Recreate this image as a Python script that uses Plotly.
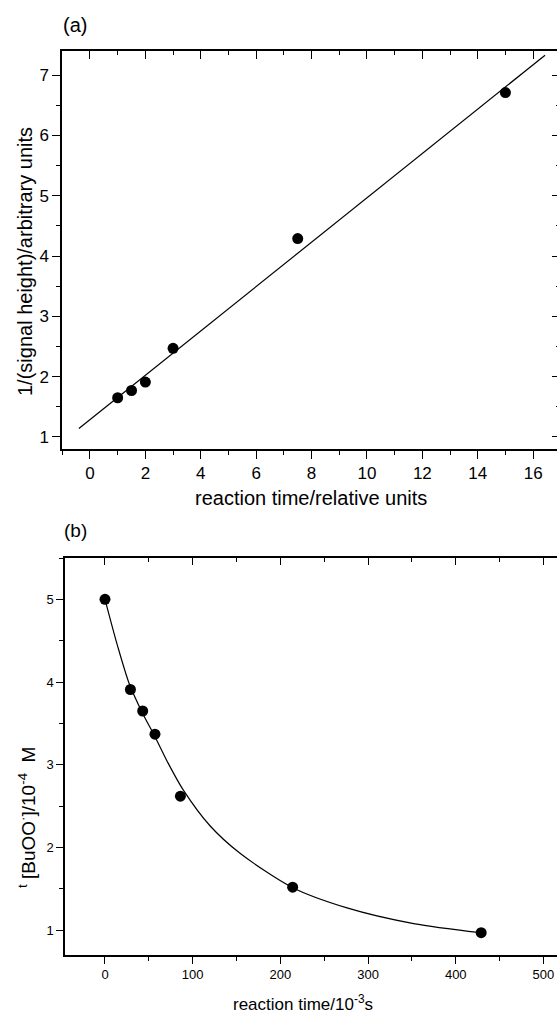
import plotly.graph_objects as go

# ---------------- data ----------------
# panel (a)
a_time = [1, 1.5, 2, 3, 7.5, 15]
a_inv_signal = [1.65, 1.77, 1.91, 2.47, 4.29, 6.71]
a_fit_x = [-0.4, 16.43]
a_fit_y = [1.14, 7.33]
a_xticks = [0, 2, 4, 6, 8, 10, 12, 14, 16]
a_yticks = [1, 2, 3, 4, 5, 6, 7]

# panel (b)
b_time = [0, 29, 43, 57, 86, 214, 429]
b_conc = [5.0, 3.91, 3.65, 3.37, 2.62, 1.52, 0.97]
b_fit_t = [0, 14, 28, 43, 57, 72, 89, 120, 154, 213, 276, 352, 428]
b_fit_c = [5.0, 4.45, 3.97, 3.62, 3.34, 3.02, 2.70, 2.26, 1.93, 1.52, 1.27, 1.08, 0.97]
b_xticks = [0, 100, 200, 300, 400, 500]
b_yticks = [1, 2, 3, 4, 5]

# figure is a bit wider than the 557 px window; the overflow is clipped,
# like the reference where the right frame runs off the picture
W, H = 575, 1014
FONT = "Liberation Sans, Arial, sans-serif"


def px_x(p):
    return p / W


def px_y(p):
    return (H - p) / H


fig = go.Figure()

fig.add_trace(go.Scatter(x=a_fit_x, y=a_fit_y, mode="lines",
                         line=dict(color="black", width=1.2),
                         xaxis="x", yaxis="y", showlegend=False))
fig.add_trace(go.Scatter(x=a_time, y=a_inv_signal, mode="markers",
                         marker=dict(color="black", size=11),
                         xaxis="x", yaxis="y", showlegend=False))
# invisible carrier so the mirrored (top / right) axes of panel (a) are drawn
fig.add_trace(go.Scatter(x=a_time, y=a_inv_signal, mode="markers",
                         marker=dict(color="rgba(0,0,0,0)", size=1),
                         hoverinfo="skip", xaxis="x3", yaxis="y3", showlegend=False))

fig.add_trace(go.Scatter(x=b_fit_t, y=b_fit_c, mode="lines",
                         line=dict(color="black", width=1.2, shape="spline", smoothing=0.8),
                         xaxis="x2", yaxis="y2", showlegend=False))
fig.add_trace(go.Scatter(x=b_time, y=b_conc, mode="markers",
                         marker=dict(color="black", size=11),
                         xaxis="x2", yaxis="y2", showlegend=False))
# invisible carrier for the top axis of panel (b)
fig.add_trace(go.Scatter(x=b_time, y=b_conc, mode="markers",
                         marker=dict(color="rgba(0,0,0,0)", size=1),
                         hoverinfo="skip", xaxis="x4", yaxis="y2", showlegend=False))

a_xrange = [-1.01, 16.97]
a_yrange = [0.80, 7.40]
b_xrange = [-45.6, 536.0]
b_yrange = [0.70, 5.50]

a_xdom = [px_x(62), px_x(560)]
a_ydom = [px_y(449), px_y(51)]
b_xdom = [px_x(65), 1.0]
b_ydom = [px_y(955), px_y(558)]

axcommon = dict(showgrid=False, zeroline=False, showline=True, linecolor="black",
                linewidth=1.5, tickcolor="black", tickwidth=1.2)

fig.update_layout(
    width=W, height=H,
    margin=dict(l=0, r=0, t=0, b=0),
    paper_bgcolor="white", plot_bgcolor="white",
    font=dict(family=FONT, color="black"),
    showlegend=False,
    # panel (a)
    xaxis=dict(domain=a_xdom, range=a_xrange, anchor="y", tickvals=a_xticks,
               ticks="outside", ticklen=8, tickfont=dict(size=17),
               minor=dict(ticks="outside", ticklen=4, tick0=0, dtick=1, tickcolor="black"),
               **axcommon),
    yaxis=dict(domain=a_ydom, range=a_yrange, anchor="x", tickvals=a_yticks,
               ticks="outside", ticklen=8, tickfont=dict(size=17),
               minor=dict(ticks="outside", ticklen=4, tick0=0, dtick=0.5, tickcolor="black"),
               **axcommon),
    xaxis3=dict(overlaying="x", side="top", anchor="y", domain=a_xdom, range=a_xrange,
                tickvals=a_xticks, ticks="inside", ticklen=8, showticklabels=False,
                minor=dict(ticks="inside", ticklen=4, tick0=0, dtick=1, tickcolor="black"),
                **axcommon),
    yaxis3=dict(overlaying="y", side="right", anchor="x", domain=a_ydom, range=a_yrange,
                tickvals=a_yticks, ticks="inside", ticklen=8, showticklabels=False,
                minor=dict(ticks="inside", ticklen=4, tick0=0, dtick=0.5, tickcolor="black"),
                **axcommon),
    # panel (b)
    xaxis2=dict(domain=b_xdom, range=b_xrange, anchor="y2", tickvals=b_xticks,
                ticks="outside", ticklen=7, tickfont=dict(size=13),
                minor=dict(ticks="outside", ticklen=4, tick0=0, dtick=50, tickcolor="black"),
                **axcommon),
    yaxis2=dict(domain=b_ydom, range=b_yrange, anchor="x2", tickvals=b_yticks,
                ticks="outside", ticklen=7, tickfont=dict(size=13),
                minor=dict(ticks="outside", ticklen=4, tick0=0, dtick=0.5, tickcolor="black"),
                **axcommon),
    xaxis4=dict(overlaying="x2", side="top", anchor="y2", domain=b_xdom, range=b_xrange,
                tickvals=b_xticks, ticks="inside", ticklen=7, showticklabels=False,
                minor=dict(ticks="inside", ticklen=4, tick0=0, dtick=50, tickcolor="black"),
                **axcommon),
)

ann = [
    dict(text="(a)", x=px_x(75), y=px_y(25), size=20),
    dict(text="(b)", x=px_x(75), y=px_y(530), size=19),
    dict(text="reaction time/relative units", x=px_x(311), y=px_y(498), size=20),
    dict(text="1/(signal height)/arbitrary units", x=px_x(25), y=px_y(262), size=20, angle=-90),
    dict(text="reaction time/10<sup>-3</sup>s", x=px_x(303), y=px_y(1003), size=17),
    dict(text="<sup>t</sup> [BuOO<sup>·</sup>]/10<sup>-4</sup>  M", x=px_x(27), y=px_y(818), size=19, angle=-90),
]
for a in ann:
    fig.add_annotation(text=a["text"], x=a["x"], y=a["y"], xref="paper", yref="paper",
                       xanchor="center", yanchor="middle", showarrow=False,
                       textangle=a.get("angle", 0),
                       font=dict(size=a["size"], family=FONT, color="black"))

fig.write_html("out.html", config={"displayModeBar": False},
               post_script="document.body.style.margin='0';document.body.style.overflow='hidden';")
